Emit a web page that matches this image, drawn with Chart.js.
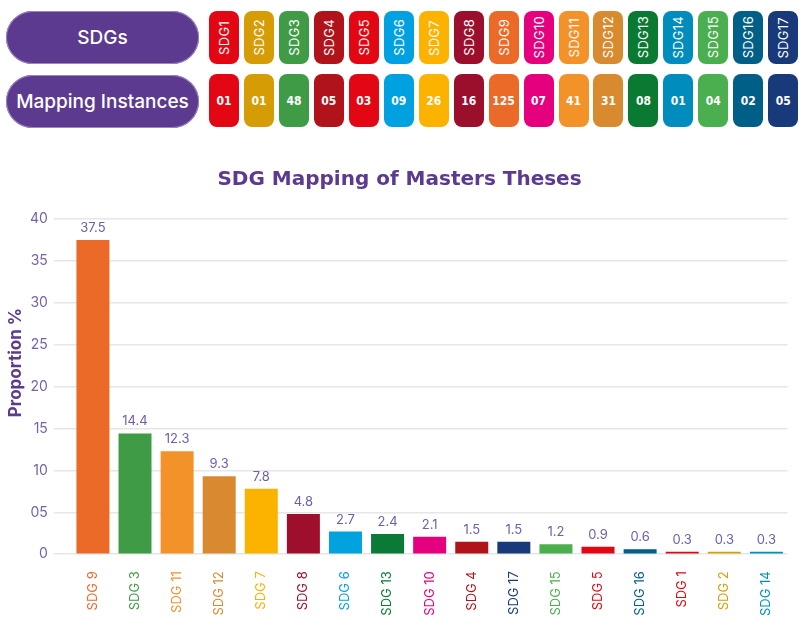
<!DOCTYPE html>
<html>
<head>
<meta charset="utf-8">
<script src="https://cdn.jsdelivr.net/npm/chart.js@4"></script>
<style>
  html, body { margin: 0; padding: 0; background: #ffffff; }
  body { width: 799px; height: 622px; position: relative; overflow: hidden; font-family: Inter, "Noto Sans", sans-serif; }
  .pill { position: absolute; left: 6px; width: 193px; height: 53px; border-radius: 27px; background: #5b3a8f;
          color: #ffffff; font-size: 19px; font-weight: 500; display: flex; align-items: center; justify-content: center;
          box-shadow: 0 0 0 1px #9b86c4 inset; }
  .tile { position: absolute; width: 30px; height: 53px; border-radius: 8px; color: #ffffff;
          display: flex; align-items: center; justify-content: center; }
  .tile .v { writing-mode: vertical-rl; transform: rotate(180deg); font-size: 13px; font-weight: 400; letter-spacing: 0.3px; }
  .tile .n { font-family: "DejaVu Sans Condensed", "Liberation Sans Narrow", sans-serif; font-size: 12px; font-weight: bold; }
  #wrap { position: absolute; left: 0; top: 140px; width: 799px; height: 503px; }
</style>
</head>
<body>
<div class="pill" style="top:11px;">SDGs</div>
<div class="pill" style="top:75px;">Mapping Instances</div>
<div id="tiles"></div>
<div id="wrap"><canvas id="c"></canvas></div>
<script>
// Header tiles data
const sdgNames = ['SDG1','SDG2','SDG3','SDG4','SDG5','SDG6','SDG7','SDG8','SDG9','SDG10','SDG11','SDG12','SDG13','SDG14','SDG15','SDG16','SDG17'];
const instances = ['01','01','48','05','03','09','26','16','125','07','41','31','08','01','04','02','05'];
const tileColors = ['#e30613','#d59c06','#3f9b46','#b0131a','#e30613','#00a1e0','#fbb300','#9b0e2c','#ec6a28','#e5007d','#f39229','#d88a2f','#0a7a32','#008dbd','#4bae4f','#005f87','#183a7b'];

// Chart data
const categories = ['SDG 9','SDG 3','SDG 11','SDG 12','SDG 7','SDG 8','SDG 6','SDG 13','SDG 10','SDG 4','SDG 17','SDG 15','SDG 5','SDG 16','SDG 1','SDG 2','SDG 14'];
const proportions = [37.5, 14.4, 12.3, 9.3, 7.8, 4.8, 2.7, 2.4, 2.1, 1.5, 1.5, 1.2, 0.9, 0.6, 0.3, 0.3, 0.3];
const barColors = ['#ec6a28','#409b47','#f39229','#d98a31','#fbb300','#9e0f2e','#02a2df','#0a7a36','#e5007d','#b0141a','#183a7b','#4caf4e','#e30613','#005f88','#e30613','#d79e0c','#008fbf'];
const yTickLabels = {0:'0', 5:'05', 10:'10', 15:'15', 20:'20', 25:'25', 30:'30', 35:'35', 40:'40'};
const yAxisTitle = 'Proportion %';

// Build tiles
const tilesEl = document.getElementById('tiles');
sdgNames.forEach((name, i) => {
  const left = 209 + i * 34.95;
  const t1 = document.createElement('div');
  t1.className = 'tile';
  t1.style.left = left + 'px'; t1.style.top = '11px'; t1.style.background = tileColors[i];
  t1.innerHTML = '<span class="v">' + name + '</span>';
  tilesEl.appendChild(t1);
  const t2 = document.createElement('div');
  t2.className = 'tile';
  t2.style.left = left + 'px'; t2.style.top = '74px'; t2.style.background = tileColors[i];
  t2.innerHTML = '<span class="n">' + instances[i] + '</span>';
  tilesEl.appendChild(t2);
});

const valueLabels = {
  id: 'valueLabels',
  afterDatasetsDraw(chart) {
    const ctx = chart.ctx;
    const meta = chart.getDatasetMeta(0);
    ctx.save();
    ctx.font = '400 13px Inter, "Noto Sans", sans-serif';
    ctx.fillStyle = '#6f5ea9';
    ctx.textAlign = 'center';
    ctx.textBaseline = 'middle';
    meta.data.forEach((bar, i) => {
      ctx.fillText(proportions[i].toFixed(1), bar.x, bar.y - 12);
    });
    ctx.restore();
  }
};

const axisTitle = {
  id: 'axisTitle',
  afterDraw(chart) {
    const ctx = chart.ctx;
    const a = chart.chartArea;
    ctx.save();
    ctx.translate(16, (a.top + a.bottom) / 2 - 24);
    ctx.rotate(-Math.PI / 2);
    ctx.font = 'bold 17px Inter, "Noto Sans", sans-serif';
    ctx.fillStyle = '#5b3a8f';
    ctx.textAlign = 'center';
    ctx.textBaseline = 'middle';
    ctx.fillText(yAxisTitle, 0, 0);
    ctx.restore();
  }
};

new Chart(document.getElementById('c'), {
  type: 'bar',
  data: {
    labels: categories,
    datasets: [{
      data: proportions,
      backgroundColor: barColors,
      borderWidth: 0,
      barPercentage: 0.8,
      categoryPercentage: 0.98
    }]
  },
  options: {
    responsive: true,
    maintainAspectRatio: false,
    animation: false,
    layout: { padding: { top: 0, right: 0, bottom: 10, left: 0 } },
    plugins: {
      legend: { display: false },
      tooltip: { enabled: false },
      title: {
        display: true,
        text: 'SDG Mapping of Masters Theses',
        color: '#5b3a8f',
        font: { family: '"DejaVu Sans", sans-serif', size: 20, weight: 'bold' },
        padding: { top: 28, bottom: 27 }
      }
    },
    scales: {
      x: {
        grid: { display: false, drawTicks: false },
        border: { display: false },
        ticks: {
          minRotation: 90, maxRotation: 90, padding: 17, autoSkip: false,
          font: { family: 'Inter, "Noto Sans", sans-serif', size: 13 },
          color: (ctx) => barColors[ctx.index]
        }
      },
      y: {
        min: 0, max: 40,
        afterFit: (scale) => { scale.width += 24; },
        grid: { color: '#e6e6e6', lineWidth: 1.5, tickLength: 18, drawTicks: true },
        border: { display: false },
        ticks: {
          stepSize: 5, padding: 6,
          font: { family: 'Inter, "Noto Sans", sans-serif', size: 14 },
          color: '#7463ad',
          callback: (v) => yTickLabels[v] !== undefined ? yTickLabels[v] : v
        }
      }
    }
  },
  plugins: [valueLabels, axisTitle]
});
</script>
</body>
</html>
